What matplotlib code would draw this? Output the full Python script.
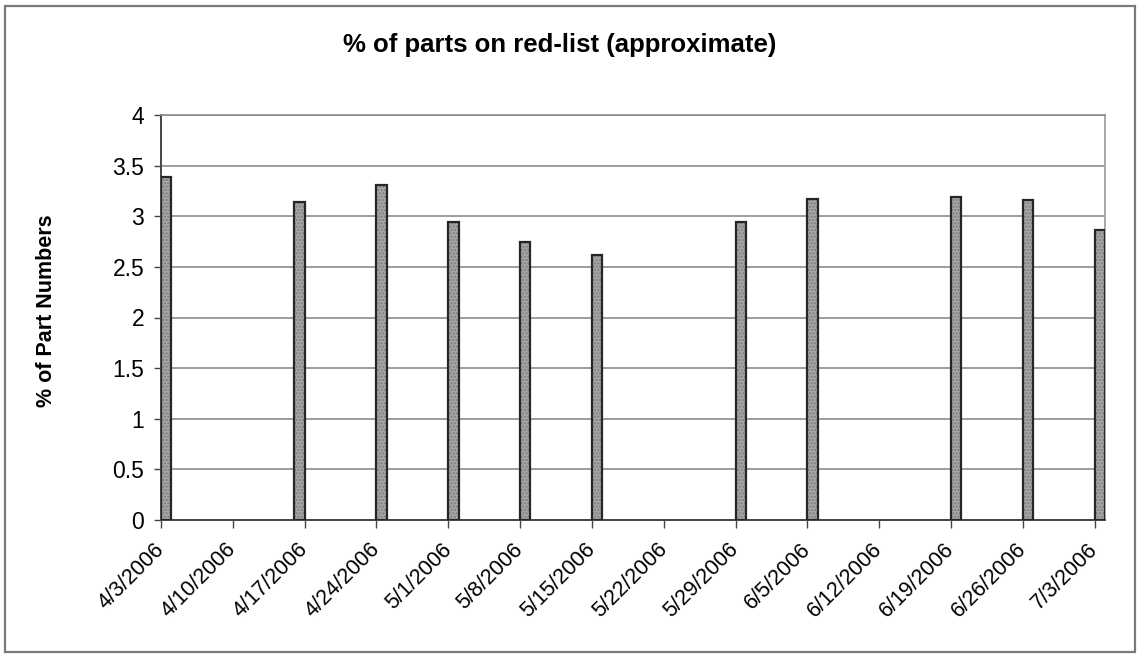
import matplotlib
matplotlib.use("Agg")
import matplotlib.pyplot as plt
import matplotlib.dates as mdates
from matplotlib.patches import Rectangle
from matplotlib.transforms import ScaledTranslation
import datetime as dt

# Weekly red-list snapshots (percent of part numbers)
dates = ["2006-04-03", "2006-04-16", "2006-04-24", "2006-05-01", "2006-05-08",
         "2006-05-15", "2006-05-29", "2006-06-05", "2006-06-19", "2006-06-26",
         "2006-07-03"]
pct_parts = [3.39, 3.14, 3.31, 2.94, 2.75, 2.62, 2.94, 3.17, 3.19, 3.16, 2.86]

tick_dates = ["2006-04-03", "2006-04-10", "2006-04-17", "2006-04-24", "2006-05-01",
              "2006-05-08", "2006-05-15", "2006-05-22", "2006-05-29", "2006-06-05",
              "2006-06-12", "2006-06-19", "2006-06-26", "2006-07-03"]
tick_labels = ["4/3/2006", "4/10/2006", "4/17/2006", "4/24/2006", "5/1/2006",
               "5/8/2006", "5/15/2006", "5/22/2006", "5/29/2006", "6/5/2006",
               "6/12/2006", "6/19/2006", "6/26/2006", "7/3/2006"]
y_ticks = [0, 0.5, 1, 1.5, 2, 2.5, 3, 3.5, 4]
y_labels = ["0", "0.5", "1", "1.5", "2", "2.5", "3", "3.5", "4"]

plt.rcParams["font.family"] = ["Liberation Sans", "DejaVu Sans"]

W, H = 1139, 657
fig = plt.figure(figsize=(W / 100, H / 100), dpi=100)

# outer chart border
fig.patches.append(Rectangle((5 / W, 5 / H), 1130 / W, 646 / H, transform=fig.transFigure,
                             fill=False, edgecolor="#7a7a7a", linewidth=1.6))

left, right, top, bottom = 161, 1105, 115, 520
ax = fig.add_axes([left / W, 1 - bottom / H, (right - left) / W, (bottom - top) / H])

xd = mdates.date2num([dt.date.fromisoformat(d) for d in dates])
xt = mdates.date2num([dt.date.fromisoformat(d) for d in tick_dates])

# speckled gray fill, then a dark outline on top
ax.bar(xd, pct_parts, width=1.0, align="edge", color="#a6a6a6",
       edgecolor="#7c7c7c", linewidth=0, hatch=".....", zorder=3)
ax.bar(xd, pct_parts, width=1.0, align="edge", fill=False,
       edgecolor="#262626", linewidth=1.6, zorder=4)

ax.set_xlim(xt[0], xt[-1] + 1)
ax.set_ylim(0, 4)
ax.set_yticks(y_ticks)
ax.set_yticklabels(y_labels, fontsize=16.5)
ax.set_xticks(xt)
ax.set_xticklabels(tick_labels, fontsize=15.5, rotation=45, ha="right",
                   va="center", rotation_mode="anchor")
shift = ScaledTranslation(-6 / 100, 0, fig.dpi_scale_trans)
for lbl in ax.get_xticklabels():
    lbl.set_transform(lbl.get_transform() + shift)
ax.tick_params(axis="x", length=6, width=1, color="#444444", pad=13)
ax.tick_params(axis="y", length=5, width=1, color="#444444", pad=7)

ax.grid(axis="y", color="#8c8c8c", linewidth=1.2, zorder=0)
ax.set_axisbelow(True)
for s in ["left", "bottom"]:
    ax.spines[s].set_color("#444444")
    ax.spines[s].set_linewidth(1.4)
ax.spines["right"].set_color("#999999")
ax.spines["right"].set_linewidth(1.2)
ax.spines["top"].set_color("#8c8c8c")
ax.spines["top"].set_linewidth(1.2)

fig.text(560 / W, 1 - 45 / H, "% of parts on red-list (approximate)", fontsize=18.5,
         fontweight="bold", ha="center", va="center")
fig.text(47 / W, 1 - 311 / H, "% of Part Numbers", fontsize=15.5, fontweight="bold",
         rotation=90, ha="center", va="center")

fig.savefig("out.png", dpi=100)
